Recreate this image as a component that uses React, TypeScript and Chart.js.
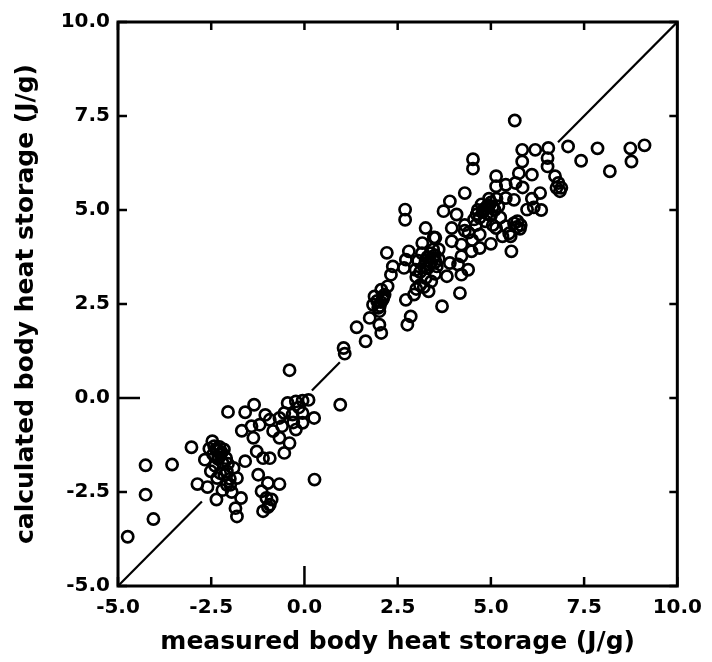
import React, { useEffect, useRef } from "react";
import { Chart, registerables } from "chart.js";

Chart.register(...registerables);

// measured body heat storage (J/g)
const measured: number[] = [
  -4.74, -4.05, -4.26, -4.26, -3.55, -3.03, -2.87, -2.6, -2.36, -2.05,
  -2.47, -2.42, -2.36, -2.45, -2.3, -2.28, -2.22, -2.67, -2.51, -2.34,
  -2.08, -2.2, -2.4, -2.16, -2.08, -1.9, -1.81, -1.99, -1.7, -1.85,
  -1.81, -2.15, -2.0, -2.26, -1.95, -2.2, -2.55, -2.1,
  -1.59, -1.35, -1.68, -1.42, -1.37, -1.2, -0.93, -0.84, -0.67, -0.45,
  -0.23, -0.05, 0.11, -0.54, -0.32, -0.05, 0.26, -0.23, -0.05, -0.67,
  -0.4, -0.54, 0.96, 0.27, -0.4, -1.28, -1.11, -0.93, -1.59, -1.24,
  -0.98, -0.67, -1.15, -1.02, -0.93, -1.11, -0.98, -0.88, -0.6, -0.15,
  -1.05, -0.3,
  1.05, 1.08, 1.4, 1.64, 1.75, 1.84, 2.01, 2.06, 2.01, 1.88,
  2.06, 2.23, 1.95, 2.1, 2.02, 2.15, 2.76, 2.85, 2.72, 2.94,
  2.32, 2.37, 2.21, 2.67, 2.72, 2.8, 2.7, 2.7,
  2.98, 3.25, 3.33, 3.1, 3.0, 3.2, 3.4, 3.3, 3.5, 3.45,
  3.6, 3.55, 3.15, 3.05, 3.2, 3.4, 3.1, 3.5, 3.0, 3.16,
  3.25, 3.47, 3.69, 3.82, 3.9, 4.12, 4.39, 4.21, 4.17, 3.51,
  3.73, 3.9, 4.08, 4.3, 3.95, 3.95, 4.21, 4.48, 4.21, 4.52,
  4.52, 3.3, 3.6,
  4.6, 4.7, 4.8, 4.9, 5.0, 5.1, 4.75, 4.65, 4.85, 5.0,
  5.2, 4.9, 4.55, 5.05, 5.15, 4.95, 4.4, 4.3, 4.5, 4.7,
  5.14, 5.75, 6.1, 6.32, 5.4, 5.66, 5.14, 5.62, 5.97, 6.15,
  5.71, 5.53, 5.31, 5.14, 5.4, 5.0, 4.7, 5.55, 5.62, 5.8,
  5.49, 5.64, 5.84, 6.19, 6.54, 5.84, 6.52, 6.52, 6.72, 6.81,
  6.89, 6.76, 6.85, 6.35, 7.07, 7.42, 7.86, 8.19, 8.74, 8.77,
  9.12, 5.4, 5.85, 6.1, 5.25,
  -2.35, -2.25, -2.32, -2.05, 2.05, 2.12, 1.98, 3.35, 3.25, 3.45,
  3.38, 3.52, 4.85, 4.95, 5.05, 4.78, 4.62, 5.7, 5.78, 4.3,
];

// calculated body heat storage (J/g)
const calculated: number[] = [
  -3.69, -3.22, -2.57, -1.79, -1.77, -1.31, -2.29, -2.37, -2.7, -0.37,
  -1.15, -1.28, -1.4, -1.5, -1.58, -1.3, -1.45, -1.64, -1.95, -2.13,
  -2.31, -1.72, -1.8, -1.37, -1.95, -1.86, -2.13, -2.31, -2.66, -2.93,
  -3.15, -2.05, -2.15, -2.0, -2.5, -2.45, -1.35, -1.6,
  -0.38, -0.18, -0.87, -0.75, -1.06, -0.71, -0.58, -0.88, -0.53, -0.13,
  -0.09, -0.07, -0.05, -0.4, -0.44, -0.4, -0.53, -0.84, -0.66, -1.06,
  -1.2, -1.46, -0.18, -2.17, 0.74, -1.42, -1.6, -1.6, -1.68, -2.04,
  -2.26, -2.29, -2.48, -2.66, -2.84, -3.01, -2.9, -2.7, -0.75, -0.25,
  -0.45, -0.65,
  1.33, 1.18, 1.88, 1.51, 2.13, 2.48, 2.31, 1.73, 1.95, 2.7,
  2.88, 2.97, 2.58, 2.62, 2.45, 2.75, 1.95, 2.17, 2.61, 2.75,
  3.28, 3.5, 3.86, 3.46, 3.68, 3.9, 4.74, 5.01,
  3.41, 3.19, 2.84, 3.0, 3.22, 3.5, 3.6, 3.75, 3.8, 3.95,
  3.7, 3.5, 3.85, 3.65, 2.95, 3.1, 3.35, 3.3, 2.9, 4.12,
  4.52, 4.27, 2.44, 3.24, 3.59, 3.55, 3.41, 3.28, 2.79, 4.26,
  4.97, 5.23, 4.88, 5.45, 4.52, 4.17, 4.08, 3.9, 3.77, 6.35,
  6.1, 3.45, 3.95,
  4.6, 4.8, 5.0, 5.1, 5.2, 5.0, 5.15, 5.0, 4.7, 4.85,
  5.1, 4.9, 4.75, 4.6, 5.3, 5.3, 4.4, 4.6, 4.2, 4.35,
  5.9, 5.98, 5.94, 5.45, 5.67, 5.72, 5.63, 5.27, 5.01, 5.07,
  4.7, 4.3, 4.3, 4.52, 4.57, 4.1, 3.99, 3.9, 4.65, 4.6,
  4.38, 7.38, 6.6, 6.6, 6.65, 6.29, 6.38, 6.16, 5.9, 5.72,
  5.59, 5.59, 5.5, 5.0, 6.69, 6.31, 6.64, 6.03, 6.64, 6.29,
  6.72, 5.32, 5.6, 5.3, 4.8,
  -1.35, -1.5, -1.62, -1.75, 2.55, 2.68, 2.4, 3.55, 3.65, 3.72,
  3.85, 3.62, 5.05, 5.12, 5.08, 4.95, 4.88, 4.55, 4.5, 4.45,
];

// visible pieces of the line of identity (start, end on x = y)
const identitySegments: [number, number][] = [
  [-5, -2.75],
  [0.2, 0.95],
  [6.8, 10],
];

const tickValues: number[] = [-5, -2.5, 0, 2.5, 5, 7.5, 10];
const axisMin = -5;
const axisMax = 10;

const FONT = "'DejaVu Sans', sans-serif";

const framePlugin = {
  id: "framePlugin",
  afterDraw(chart: any) {
    const { ctx, chartArea } = chart;
    const xs = chart.scales.x;
    const ys = chart.scales.y;
    const { left, right, top, bottom } = chartArea;
    ctx.save();
    ctx.strokeStyle = "#000";
    ctx.lineWidth = 3;
    ctx.lineCap = "butt";
    ctx.strokeRect(left, top, right - left, bottom - top);
    ctx.lineWidth = 2.5;
    tickValues.forEach((v) => {
      const px = xs.getPixelForValue(v);
      const py = ys.getPixelForValue(v);
      const longX = v === 0 ? 20 : 9;
      const longY = v === 0 ? 22 : 9;
      ctx.beginPath();
      ctx.moveTo(px, bottom);
      ctx.lineTo(px, bottom - longX);
      ctx.moveTo(px, top);
      ctx.lineTo(px, top + 8);
      ctx.moveTo(left, py);
      ctx.lineTo(left + longY, py);
      ctx.moveTo(right, py);
      ctx.lineTo(right - 8, py);
      ctx.stroke();
    });
    ctx.restore();
  },
};

export default function App() {
  const ref = useRef<HTMLCanvasElement | null>(null);

  useEffect(() => {
    if (!ref.current) return;
    const points = measured.map((x, i) => ({ x, y: calculated[i] }));
    const lineDatasets = identitySegments.map(([a, b]) => ({
      type: "line" as const,
      data: [
        { x: a, y: a },
        { x: b, y: b },
      ],
      borderColor: "#000",
      borderWidth: 2.2,
      pointRadius: 0,
      fill: false,
      tension: 0,
    }));
    const chart = new Chart(ref.current, {
      type: "scatter",
      data: {
        datasets: [
          ...lineDatasets,
          {
            type: "scatter" as const,
            data: points,
            pointStyle: "circle",
            pointRadius: 5.6,
            pointBorderWidth: 2.7,
            borderColor: "#000",
            backgroundColor: "rgba(0,0,0,0)",
          } as any,
        ],
      },
      plugins: [framePlugin],
      options: {
        animation: false,
        responsive: false,
        events: [],
        layout: { padding: { left: 0, right: 26, top: 22, bottom: 0 } },
        plugins: {
          legend: { display: false },
          tooltip: { enabled: false },
        },
        scales: {
          x: {
            type: "linear",
            min: axisMin,
            max: axisMax,
            afterBuildTicks: (scale: any) => {
              scale.ticks = tickValues.map((v) => ({ value: v }));
            },
            afterFit: (scale: any) => {
              scale.height = 76;
            },
            grid: { display: false, drawTicks: false },
            border: { display: false },
            ticks: {
              color: "#000",
              padding: 10,
              maxRotation: 0,
              autoSkip: false,
              font: { family: FONT, size: 20, weight: "bold" },
              callback: (v: any) => Number(v).toFixed(1),
            },
            title: {
              display: true,
              text: "measured body heat storage (J/g)",
              color: "#000",
              font: { family: FONT, size: 25, weight: "bold" },
              padding: { top: 0, bottom: 5 },
            },
          },
          y: {
            type: "linear",
            min: axisMin,
            max: axisMax,
            afterBuildTicks: (scale: any) => {
              scale.ticks = tickValues.map((v) => ({ value: v }));
            },
            afterFit: (scale: any) => {
              scale.width = 118;
            },
            grid: { display: false, drawTicks: false },
            border: { display: false },
            ticks: {
              color: "#000",
              padding: 8,
              autoSkip: false,
              font: { family: FONT, size: 20, weight: "bold" },
              callback: (v: any) => Number(v).toFixed(1),
            },
            title: {
              display: true,
              text: "calculated body heat storage (J/g)",
              color: "#000",
              font: { family: FONT, size: 25, weight: "bold" },
              padding: { top: 11, bottom: 0 },
            },
          },
        },
      },
    } as any);
    return () => chart.destroy();
  }, []);

  return (
    <div
      style={{
        position: "fixed",
        left: 0,
        top: 0,
        width: 712,
        height: 662,
        background: "#fff",
      }}
    >
      <canvas ref={ref} width={712} height={662} />
    </div>
  );
}
